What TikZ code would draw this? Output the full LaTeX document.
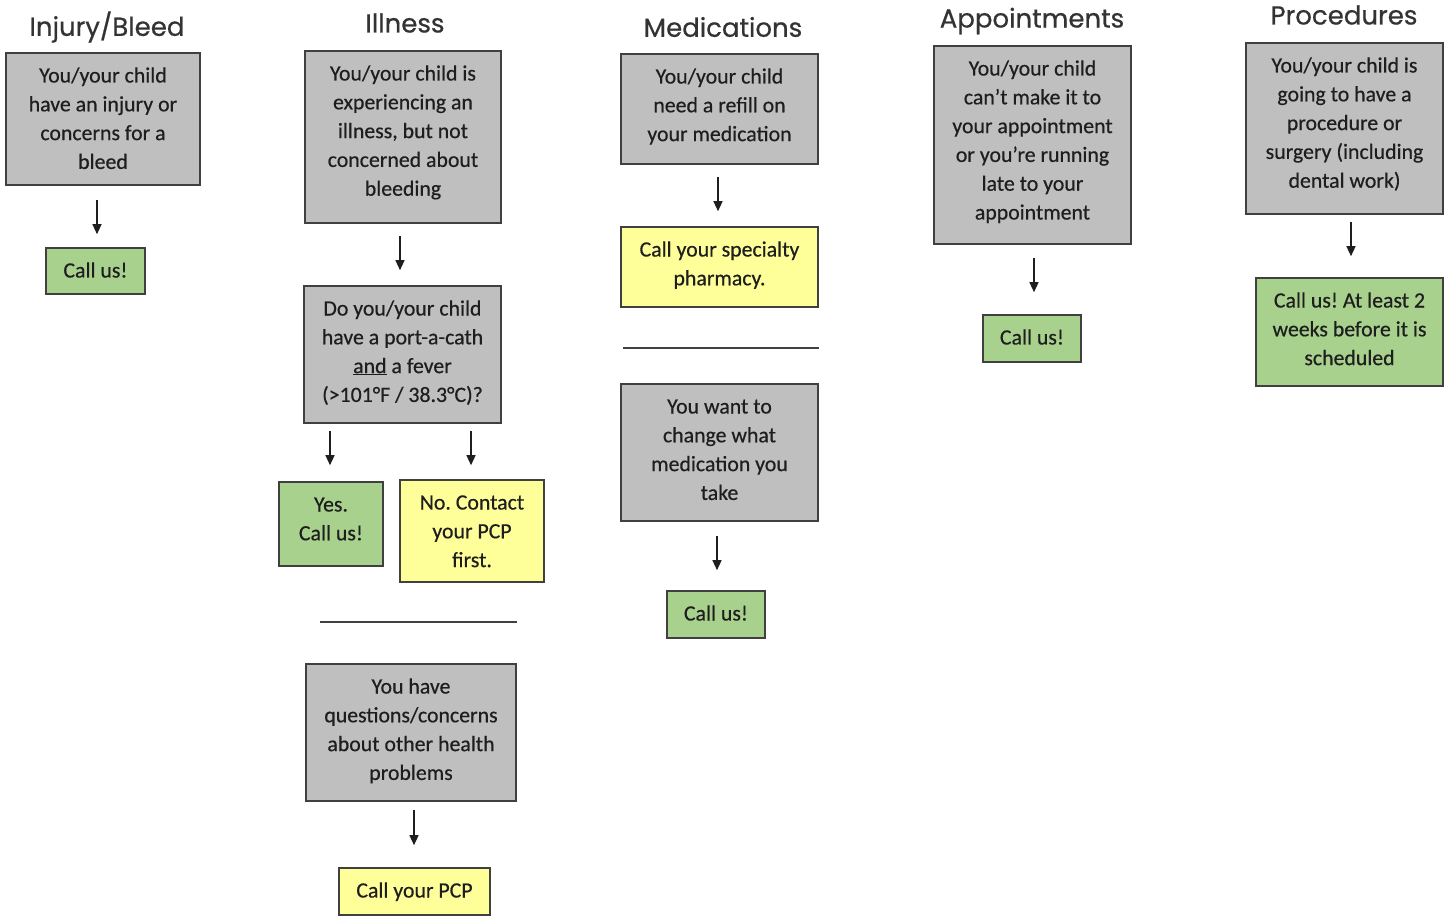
\documentclass[tikz,border=0pt]{standalone}
\usepackage{fontspec}
\setmainfont{Carlito}[FakeBold=0.5]
\newfontfamily\headfont{Poppins}[FakeBold=0.6]
\usetikzlibrary{arrows.meta}
\definecolor{boxgray}{HTML}{BFBFBF}
\definecolor{boxgreen}{HTML}{A9D18E}
\definecolor{boxyellow}{HTML}{FFFF99}
\definecolor{edgegray}{HTML}{404040}
\definecolor{txt}{HTML}{1E1E1E}
\definecolor{headtxt}{HTML}{333333}
\frenchspacing
\tikzset{
  base/.style={draw=edgegray, line width=1.6pt, inner sep=0pt, text=txt,
    font=\fontsize{21.8}{28.8}\selectfont},
  graybox/.style={base, fill=boxgray},
  greenbox/.style={base, fill=boxgreen},
  yellowbox/.style={base, fill=boxyellow},
  head/.style={text=headtxt, font=\headfont\fontsize{26}{30}\selectfont, inner sep=0pt},
  arr/.style={line width=1.3pt, draw=txt, -{Triangle[length=10pt,width=9pt]}},
  sep/.style={line width=1.4pt, draw=edgegray}
}
% box with text set from the top, first baseline 29.5pt below the top edge
\newcommand{\bx}[6]{\node[#1] (#2) at #3 {\parbox[c][#5pt][t]{#4pt}{\centering\rule{0pt}{29.5pt}#6}};}
\begin{document}
\begin{tikzpicture}[x=1pt,y=-1pt]
\useasboundingbox[fill=white] (0,0) rectangle (1451,917);
% column 1
\node[head] (h1) at (107,27) {Injury/Bleed};
\bx{graybox}{b1}{(103,119)}{194}{132}{You/your child\\have an injury or\\concerns for a\\bleed}
\bx{greenbox}{g1}{(95.5,271)}{99}{46}{Call us!}
\draw[arr, shorten <=14pt, shorten >=13pt] ([xshift=-6pt]b1.south) -- ([xshift=1.5pt]g1.north);
% column 2
\node[head] (h2) at (405,23) {Illness};
\bx{graybox}{b2}{(403,137)}{196}{172}{You/your child is\\experiencing an\\illness, but not\\concerned about\\bleeding}
\bx{graybox}{b3}{(402.5,354.5)}{197}{137}{Do you/your child\\have a port-a-cath\\\underline{and} a fever\\(>101°F / 38.3°C)?}
\bx{greenbox}{g2}{(331,524)}{104}{84}{Yes.\\Call us!}
\bx{yellowbox}{y2}{(472,531)}{144}{102}{No. Contact\\your PCP\\first.}
\bx{graybox}{b4}{(411,732.5)}{210}{137}{You have\\questions/concerns\\about other health\\problems}
\bx{yellowbox}{y3}{(414.5,891.5)}{151}{47}{Call your PCP}
\draw[sep] (320,622) -- (517,622);
\draw[arr, shorten <=12pt, shorten >=15pt] ([xshift=-3pt]b2.south) -- ([xshift=-2.5pt]b3.north);
\draw[arr, shorten <=7pt, shorten >=16pt] ([xshift=-72.5pt]b3.south) -- ([xshift=-1pt]g2.north);
\draw[arr, shorten <=7pt, shorten >=14pt] ([xshift=68.5pt]b3.south) -- ([xshift=-1pt]y2.north);
\draw[arr, shorten <=8pt, shorten >=22pt] ([xshift=3pt]b4.south) -- ([xshift=-0.5pt]y3.north);
% column 3
\node[head] (h3) at (723,27) {Medications};
\bx{graybox}{b5}{(719.5,109)}{197}{110}{You/your child\\need a refill on\\your medication}
\bx{yellowbox}{y4}{(719.5,267)}{197}{80}{Call your specialty\\pharmacy.}
\bx{graybox}{b6}{(719.5,452.5)}{197}{137}{You want to\\change what\\medication you\\take}
\bx{greenbox}{g3}{(716,614.5)}{98}{47}{Call us!}
\draw[sep] (623,348) -- (819,348);
\draw[arr, shorten <=12pt, shorten >=15pt] ([xshift=-1.5pt]b5.south) -- ([xshift=-1.5pt]y4.north);
\draw[arr, shorten <=14pt, shorten >=20pt] ([xshift=-2.5pt]b6.south) -- ([xshift=1pt]g3.north);
% column 4
\node[head] (h4) at (1032,21) {Appointments};
\bx{graybox}{b7}{(1032.5,145)}{197}{198}{You/your child\\can’t make it to\\your appointment\\or you’re running\\late to your\\appointment}
\bx{greenbox}{g4}{(1032,338.5)}{98}{47}{Call us!}
\draw[arr, shorten <=13pt, shorten >=22pt] ([xshift=1.5pt]b7.south) -- ([xshift=2pt]g4.north);
% column 5
\node[head] (h5) at (1344,15) {Procedures};
\bx{graybox}{b8}{(1344.5,128.5)}{197}{171}{You/your child is\\going to have a\\procedure or\\surgery (including\\dental work)}
\bx{greenbox}{g5}{(1349.5,332)}{187}{108}{Call us! At least 2\\weeks before it is\\scheduled}
\draw[arr, shorten <=7pt, shorten >=21pt] ([xshift=6.5pt]b8.south) -- ([xshift=1.5pt]g5.north);
\end{tikzpicture}
\end{document}
